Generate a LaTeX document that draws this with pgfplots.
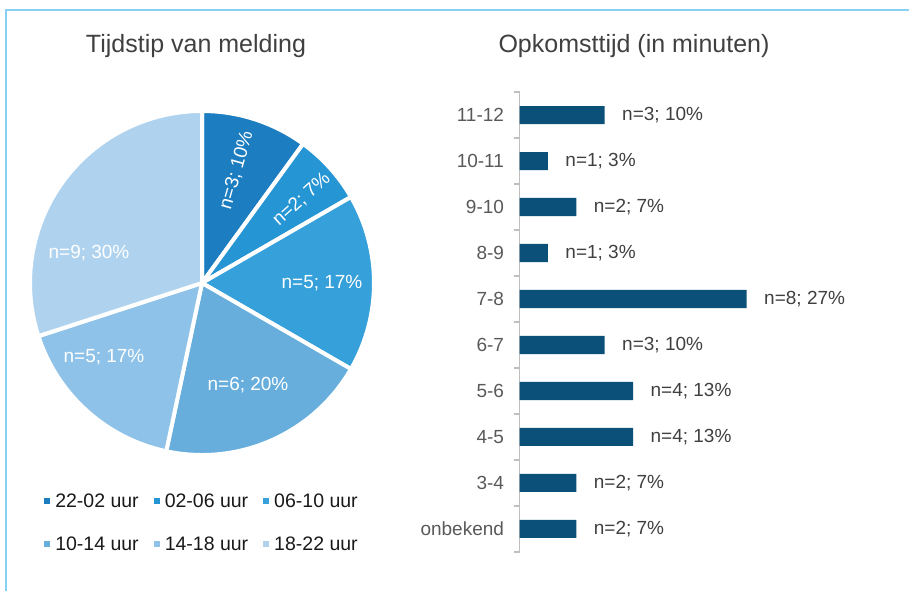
\documentclass[border=0pt]{standalone}
\usepackage{pgfplots}
\pgfplotsset{compat=1.18}
\usepackage{pgfplotstable}
\usepackage{fontspec}
\setmainfont{Liberation Sans}

\definecolor{frame}{HTML}{86D0F4}
\definecolor{pieA}{HTML}{1C7EC0}
\definecolor{pieB}{HTML}{2595D4}
\definecolor{pieC}{HTML}{35A0DA}
\definecolor{pieD}{HTML}{67AEDD}
\definecolor{pieE}{HTML}{8FC2E8}
\definecolor{pieF}{HTML}{AFD3EF}
\definecolor{bar}{HTML}{0B5079}
\definecolor{txt}{HTML}{404040}
\definecolor{tick}{HTML}{595959}

% opkomsttijd: positie (0 = onderaan), aantal, percentage
\pgfplotstableread{
pos n pct
9 3 10
8 1 3
7 2 7
6 1 3
5 8 27
4 3 10
3 4 13
2 4 13
1 2 7
0 2 7
}\opkomst

% pie slice: cumulative start, cumulative end (out of 30), colour
\newcommand{\slice}[3]{%
  \fill[#3, draw=white, line width=4pt, line join=round]
    (axis cs:0,0) -- ++({90-12*#1}:172pt)
    arc[start angle={90-12*#1}, end angle={90-12*#2}, radius=172pt] -- cycle;}

\begin{document}
\begin{tikzpicture}
% light blue frame
\draw[frame, line width=1.5pt] (6pt,0pt) -- (6pt,581pt) -- (909pt,581pt);

\node[text=txt, font=\fontsize{25}{30}\selectfont] at (196pt,545pt) {Tijdstip van melding};
\node[text=txt, font=\fontsize{25}{30}\selectfont] at (634pt,545pt) {Opkomsttijd (in minuten)};

% ---- pie ----
\begin{axis}[
  at={(202pt,308pt)}, anchor=origin,
  scale only axis, width=344pt, height=344pt,
  xmin=-172, xmax=172, ymin=-172, ymax=172,
  hide axis, clip=false,
  legend columns=3,
  legend image code/.code={\fill (0pt,-3pt) rectangle (6pt,3pt);},
  legend style={draw=none, fill=none, at={(0.5,-0.197)}, anchor=center,
    font=\fontsize{19.5}{22}\selectfont, text=black!90,
    row sep=24pt,
    /tikz/every odd column/.append style={column sep=3pt},
    /tikz/every even column/.append style={column sep=13pt}},
]
\addlegendimage{fill=pieA, draw=none}\addlegendentry{22-02 uur}
\addlegendimage{fill=pieB, draw=none}\addlegendentry{02-06 uur}
\addlegendimage{fill=pieC, draw=none}\addlegendentry{06-10 uur}
\addlegendimage{fill=pieD, draw=none}\addlegendentry{10-14 uur}
\addlegendimage{fill=pieE, draw=none}\addlegendentry{14-18 uur}
\addlegendimage{fill=pieF, draw=none}\addlegendentry{18-22 uur}

\slice{0}{3}{pieA}
\slice{3}{5}{pieB}
\slice{5}{10}{pieC}
\slice{10}{16}{pieD}
\slice{16}{21}{pieE}
\slice{21}{30}{pieF}

\begin{scope}[every node/.style={text=white, font=\fontsize{19}{22}\selectfont}]
\node[rotate=74] at (axis cs:{118*cos(73)},{118*sin(73)}) {n=3; 10\%};
\node[rotate=42] at (axis cs:{130*cos(40)},{130*sin(40)}) {n=2; 7\%};
\node at (axis cs:120,0) {n=5; 17\%};
\node at (axis cs:46,-102) {n=6; 20\%};
\node at (axis cs:-98,-74) {n=5; 17\%};
\node at (axis cs:-113,30) {n=9; 30\%};
\end{scope}
\end{axis}

% ---- bars ----
\begin{axis}[
  at={(519.5pt,39pt)}, anchor=south west,
  scale only axis, width=284pt, height=460pt,
  xbar, bar width=18pt,
  xmin=0, xmax=10, ymin=-0.5, ymax=9.5,
  axis x line=none, axis y line*=left,
  y axis line style={draw=black!25, line width=1.2pt},
  ytick={0,...,9},
  yticklabels={onbekend,3-4,4-5,5-6,6-7,7-8,8-9,9-10,10-11,11-12},
  minor ytick={-0.5,0.5,...,9.5},
  major tick length=0pt, minor tick length=6pt, tick align=outside,
  minor tick style={draw=black!25, line width=1.2pt},
  yticklabel style={text=tick, font=\fontsize{19}{22}\selectfont, xshift=-12pt},
  clip=false,
  point meta=explicit,
  visualization depends on={\thisrow{n} \as \nval},
  nodes near coords={n=\pgfmathprintnumber{\nval}; \pgfmathprintnumber{\pgfplotspointmeta}\%},
  /pgf/number format/assume math mode=true,
  every node near coord/.append style={anchor=west, xshift=14pt, text=txt,
    font=\fontsize{19}{22}\selectfont},
]
\addplot[fill=bar, draw=none] table[x=n, y=pos, meta=pct] {\opkomst};
\end{axis}

\pgfresetboundingbox
\useasboundingbox (0pt,0pt) rectangle (909pt,591pt);
\end{tikzpicture}
\end{document}
